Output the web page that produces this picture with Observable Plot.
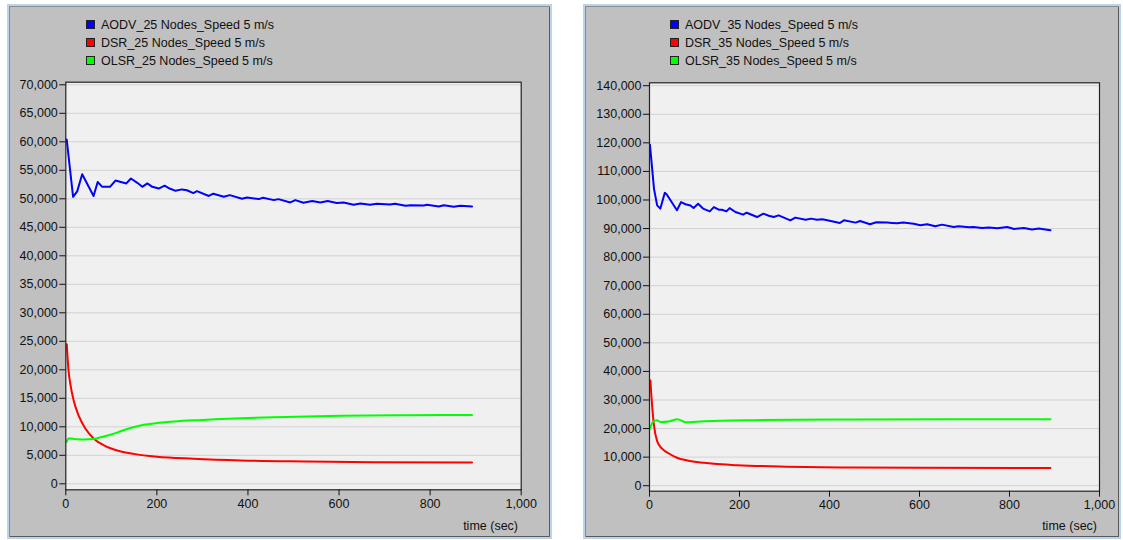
<!DOCTYPE html>
<html><head><meta charset="utf-8">
<script src="https://cdn.jsdelivr.net/npm/d3@7"></script>
<script src="https://cdn.jsdelivr.net/npm/@observablehq/plot@0.6"></script>
<style>
body{margin:0;background:#fff;width:1123px;height:540px;overflow:hidden;font-family:"Liberation Sans",Arial,sans-serif;position:relative;}
.panel{position:absolute;background:#c0c0c0;border:2px solid #bcd3ee;box-shadow:inset 1px 1px 0 #8c8c8c, inset -1px -1px 0 #5a5a5a;box-sizing:border-box;}
.chart{position:absolute;}
.legend{position:absolute;font-size:12.5px;color:#111;}
.legend div{height:18px;line-height:18px;white-space:nowrap;}
.sw{display:inline-block;width:7px;height:7px;border:1px solid #222;margin-right:6px;vertical-align:-0px;}
.xlab{position:absolute;font-size:12.5px;color:#111;line-height:14px;white-space:nowrap;}
</style></head><body>
<script>
// ---- data ----
const xTicks = [0, 200, 400, 600, 800, 1000];
const yTicks25 = d3.range(0, 70001, 5000);
const yTicks35 = d3.range(0, 140001, 10000);
const xLabel = "time (sec)";
const names25 = ["AODV_25 Nodes_Speed 5 m/s", "DSR_25 Nodes_Speed 5 m/s", "OLSR_25 Nodes_Speed 5 m/s"];
const names35 = ["AODV_35 Nodes_Speed 5 m/s", "DSR_35 Nodes_Speed 5 m/s", "OLSR_35 Nodes_Speed 5 m/s"];
const colors = ["#0000ff", "#ff0000", "#00ff00"];

const aodv25 = [[2,60400],[16,50350],[25,51300],[36,54300],[61,50480],[70,52950],[80,52100],[97,52100],[109,53200],[133,52700],[143,53560],[157,52800],[168,52100],[179,52700],[190,52100],[204,51800],[217,52300],[228,51800],[241,51400],[255,51650],[266,51500],[280,51000],[288,51340],[314,50500],[324,50900],[347,50350],[360,50650],[387,50000],[398,50230],[424,49950],[433,50180],[457,49770],[467,49940],[493,49360],[504,49770],[522,49300],[541,49600],[559,49360],[575,49600],[595,49250],[610,49360],[632,48950],[647,49180],[668,48950],[683,49120],[712,49000],[723,49120],[746,48770],[757,48880],[786,48830],[793,48950],[819,48650],[830,48880],[852,48600],[866,48770],[892,48650]];
const dsr25 = [[2,24500],[6,19900],[10,17500],[17,14700],[28,12000],[43,9700],[61,7950],[85,6700],[113,5850],[149,5250],[200,4750],[280,4400],[384,4100],[530,3920],[676,3800],[892,3740]];
const olsr25 = [[2,7350],[6,7950],[12,7950],[25,7800],[40,7770],[60,7850],[76,8150],[100,8650],[125,9350],[150,9950],[171,10350],[200,10650],[237,10930],[300,11200],[457,11680],[603,11930],[750,12040],[892,12060]];

const aodv35 = [[1,119300],[10,103900],[17,98100],[24,96960],[34,102500],[38,102000],[61,96400],[70,99260],[80,98500],[91,98100],[98,97200],[108,98700],[119,97000],[134,96000],[143,97500],[154,96600],[161,96600],[171,96000],[178,97170],[191,95800],[208,94870],[216,95540],[239,94040],[253,95220],[265,94500],[276,94040],[287,94630],[313,92890],[324,93830],[347,93100],[359,93480],[372,93100],[384,93250],[395,92890],[423,91950],[432,92890],[458,92080],[468,92650],[490,91500],[504,92200],[528,92080],[539,91950],[550,91830],[564,92080],[587,91700],[602,91150],[617,91500],[635,90800],[650,91370],[676,90560],[687,90800],[710,90440],[720,90560],[739,90210],[754,90330],[773,90100],[795,90560],[810,89860],[832,90210],[850,89650],[865,90000],[891,89400]];
const dsr35 = [[2,36800],[6,27600],[10,21000],[17,15600],[28,12950],[45,11100],[61,9780],[84,8830],[121,8020],[143,7660],[195,7200],[291,6700],[454,6360],[602,6240],[891,6200]];
const olsr35 = [[1,20000],[8,22400],[16,22950],[24,22300],[45,22590],[62,23300],[80,22200],[121,22590],[232,22940],[454,23180],[676,23300],[891,23300]];

// ---- layout ----
const panels = [
  {box:{left:7,top:4,width:545,height:535}, svgLeft:10, svgTop:70, width:540, height:467,
   mL:55.3, mR:29.3, mT:11.7, mB:47.7, yDomain:[-1053,70456], yTicks:yTicks25,
   series:[aodv25,dsr25,olsr25], names:names25, legLeft:86, legTop:16, xlabRight:1123-518, xlabTop:519},
  {box:{left:583,top:4,width:538,height:535}, svgLeft:587, svgTop:70, width:531, height:467,
   mL:62, mR:19, mT:12.3, mB:46.3, yDomain:[-1925,141015], yTicks:yTicks35,
   series:[aodv35,dsr35,olsr35], names:names35, legLeft:670, legTop:16, xlabRight:1123-1097, xlabTop:519}
];

for (const p of panels) {
  const box = document.createElement("div");
  box.className = "panel";
  Object.assign(box.style, {left:p.box.left+"px", top:p.box.top+"px", width:p.box.width+"px", height:p.box.height+"px"});
  document.body.appendChild(box);

  const leg = document.createElement("div");
  leg.className = "legend";
  leg.style.left = p.legLeft + "px"; leg.style.top = p.legTop + "px";
  p.names.forEach((n, i) => {
    const row = document.createElement("div");
    row.innerHTML = `<span class="sw" style="background:${colors[i]}"></span>${n}`;
    leg.appendChild(row);
  });
  document.body.appendChild(leg);

  const data = [];
  p.series.forEach((s, i) => s.forEach(([t, v]) => data.push({t, v, name: p.names[i]})));

  const chart = Plot.plot({
    width: p.width, height: p.height,
    marginLeft: p.mL, marginRight: p.mR, marginTop: p.mT, marginBottom: p.mB,
    style: {background: "transparent", fontSize: "12.5px", fontFamily: "Liberation Sans, Arial, sans-serif", color: "#111"},
    x: {domain: [0, 1000]},
    y: {domain: p.yDomain},
    color: {domain: p.names, range: colors},
    marks: [
      Plot.frame({fill: "#f0f0f0", stroke: null}),
      Plot.gridY(p.yTicks, {stroke: "#d2d2d2", strokeOpacity: 1, strokeWidth: 1}),
      Plot.line(data.filter(d => d.name === p.names[0]), {x: "t", y: "v", stroke: "name", strokeWidth: 2}),
      Plot.line(data.filter(d => d.name !== p.names[0]), {x: "t", y: "v", z: "name", stroke: "name", strokeWidth: 2, curve: "monotone-x"}),
      Plot.frame({stroke: "#222", strokeWidth: 1.2}),
      Plot.axisY(p.yTicks, {tickFormat: d3.format(","), tickSize: 6, tickPadding: 2, label: null}),
      Plot.axisX(xTicks, {tickFormat: d3.format(","), tickSize: 6, tickPadding: 3, label: null})
    ]
  });
  chart.classList.add("chart");
  chart.style.left = p.svgLeft + "px";
  chart.style.top = p.svgTop + "px";
  document.body.appendChild(chart);

  const xl = document.createElement("div");
  xl.className = "xlab";
  xl.textContent = xLabel;
  xl.style.right = p.xlabRight + "px"; xl.style.top = p.xlabTop + "px";
  document.body.appendChild(xl);
}
</script>
</body></html>
